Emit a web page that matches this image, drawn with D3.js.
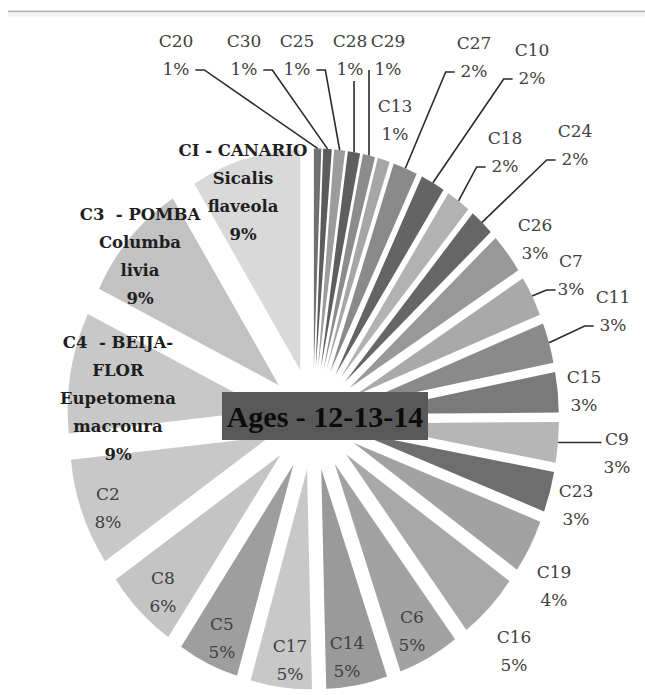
<!DOCTYPE html>
<html>
<head>
   <meta charset="UTF-8">
   <title>Ages - 12-13-14</title>
   <style>
       body { margin: 0; overflow: hidden; background: white; }
       #chart { width: 645px; height: 695px; }
       .lbl { font-family: "DejaVu Serif", "Liberation Serif", serif; font-size: 17px; fill: #404040; white-space: pre; }
       .lbl.bold { font-size: 16.5px; font-weight: bold; fill: #1e1e1e; }
       .leader { fill: none; stroke: #2a2a2a; stroke-width: 1.6; }
   </style>
   <script src="https://cdnjs.cloudflare.com/ajax/libs/d3/7.8.5/d3.min.js"></script>
</head>
<body>
   <div id="chart"></div>
   <script>
       // slices, clockwise from 12 o'clock
       const categories = ["C20","C30","C25","C28","C29","C13","C27","C10","C18","C24",
                           "C26","C7","C11","C15","C9","C23","C19","C16","C6","C14",
                           "C17","C5","C8","C2","C4","C3","C1"];
       // shares (the printed labels are rounded)
       const values = [0.6,0.7,0.9,1,1,1,2,2,2,2,
                       3,3,3,3,3,3,4,5,5,5,
                       5,5,6,8,9,9,9];
       // species names for the named slices
       const species = {
           C4: ["C4  - BEIJA-", "FLOR", "Eupetomena", "macroura"],
           C3: ["C3  - POMBA", "Columba", "livia"],
           C1: ["CI - CANARIO", "Sicalis", "flaveola"]
       };
       const title = "Ages - 12-13-14";

       const shades = ["#707070","#5c5c5c","#9c9c9c","#5e5e5e","#8c8c8c","#a6a6a6","#8a8a8a","#646464","#b2b2b2","#666666",
                       "#989898","#a9a9a9","#8a8a8a","#7a7a7a","#b6b6b6","#6e6e6e","#a2a2a2","#a8a8a8","#a2a2a2","#9a9a9a",
                       "#c8c8c8","#9e9e9e","#c4c4c4","#c8c8c8","#c8c8c8","#c2c2c2","#d9d9d9"];

       // label placement: block centre (x, y), and whether a leader line is drawn
       const labelPos = {
           C20: [176, 55, 1], C30: [244, 55, 1], C25: [297, 55, 1], C28: [350, 55, 1], C29: [388, 55, 1],
           C13: [395, 120, 0], C27: [474, 57, 1], C10: [532, 64, 1], C18: [505, 152, 1], C24: [575, 145, 1],
           C26: [535, 239, 0], C7: [571, 275, 1], C11: [613, 311, 1], C15: [584, 391, 0], C9: [617, 453, 1],
           C23: [576, 505, 0], C19: [554, 586, 0], C16: [514, 651, 0], C6: [412, 631, 0], C14: [347, 657, 0],
           C17: [290, 660, 0], C5: [222, 638, 0], C8: [163, 592, 0], C2: [108, 508, 0],
           C4: [118, 398, 0], C3: [140, 256, 0], C1: [243, 192, 0]
       };

       const width = 645, height = 695;
       const cx = 313, cy = 419, R = 200, ex = 46, sy = 1.1;
       const lineH = 28;

       const data = categories.map((c, i) => ({ name: c, value: values[i], color: shades[i] }));

       const svg = d3.select("#chart").append("svg")
           .attr("width", width).attr("height", height);

       svg.append("line").attr("x1", 8).attr("x2", width).attr("y1", 11.5).attr("y2", 11.5)
           .attr("stroke", "#a8a8a8").attr("stroke-width", 1.5);
       svg.append("rect").attr("x", 8).attr("y", 12.5).attr("width", width - 8).attr("height", 4)
           .attr("fill", "#f3f3f3");

       const pie = d3.pie().sort(null).value(d => d.value);
       const arc = d3.arc().innerRadius(0).outerRadius(R);
       const arcs = pie(data);
       const mid = d => (d.startAngle + d.endAngle) / 2;

       const g = svg.append("g")
           .attr("transform", `translate(${cx},${cy}) scale(1,${sy})`);

       g.selectAll("path.slice")
           .data(arcs)
           .enter().append("path")
           .attr("class", "slice")
           .attr("d", arc)
           .attr("fill", d => d.data.color)
           .attr("transform", d => `translate(${ex * Math.sin(mid(d))},${-ex * Math.cos(mid(d))})`);

       // outer midpoint of an exploded slice, in page coordinates
       const outerPt = d => {
           const a = mid(d), r = R + ex;
           return [cx + r * Math.sin(a), cy - r * Math.cos(a) * sy];
       };

       const total = d3.sum(values);
       const labels = svg.append("g");
       arcs.forEach(d => {
           const name = d.data.name;
           const pct = Math.round(d.data.value / total * 100) + "%";
           const lines = (species[name] || [name]).concat([pct]);
           const bold = !!species[name];
           const [lx, ly, lead] = labelPos[name];
           const y0 = ly - (lines.length - 1) * lineH / 2;
           const t = labels.append("text")
               .attr("class", bold ? "lbl bold" : "lbl")
               .attr("text-anchor", "middle");
           lines.forEach((s, i) => {
               t.append("tspan").attr("x", lx).attr("y", y0 + i * lineH).attr("dy", "0.35em").text(s);
           });
           if (!lead) return;
           const bb = t.node().getBBox();
           const [px, py] = outerPt(d);
           let qx, qy, path;
           if (px >= bb.x && px <= bb.x + bb.width) {
               qx = px; qy = bb.y + bb.height + 2;
               path = `M${qx},${qy}L${px},${py}`;
           } else {
               const left = px < bb.x;
               qx = left ? bb.x - 2 : bb.x + bb.width + 2;
               qy = Math.max(bb.y + 8, Math.min(py, bb.y + bb.height - 9));
               const hx = qx + (left ? -9 : 9);
               const near = Math.abs(px - qx) < 12;
               path = (near || Math.abs(py - qy) < 3)
                   ? `M${near ? px : qx},${qy}L${px},${py}`
                   : `M${qx},${qy}L${hx},${qy}L${px},${py}`;
           }
           labels.append("path").attr("class", "leader").attr("d", path);
       });

       // title box in the middle of the pie
       const tg = svg.append("g");
       tg.append("rect").attr("x", 222).attr("y", 392).attr("width", 206).attr("height", 48)
           .attr("fill", "#595959");
       tg.append("text")
           .attr("x", 325).attr("y", 416).attr("dy", "0.35em")
           .attr("text-anchor", "middle")
           .style("font-family", "'Liberation Serif', 'DejaVu Serif', serif")
           .style("font-size", "30px").style("font-weight", "bold")
           .attr("fill", "#0c0c0c")
           .text(title);
   </script>
</body>
</html>
